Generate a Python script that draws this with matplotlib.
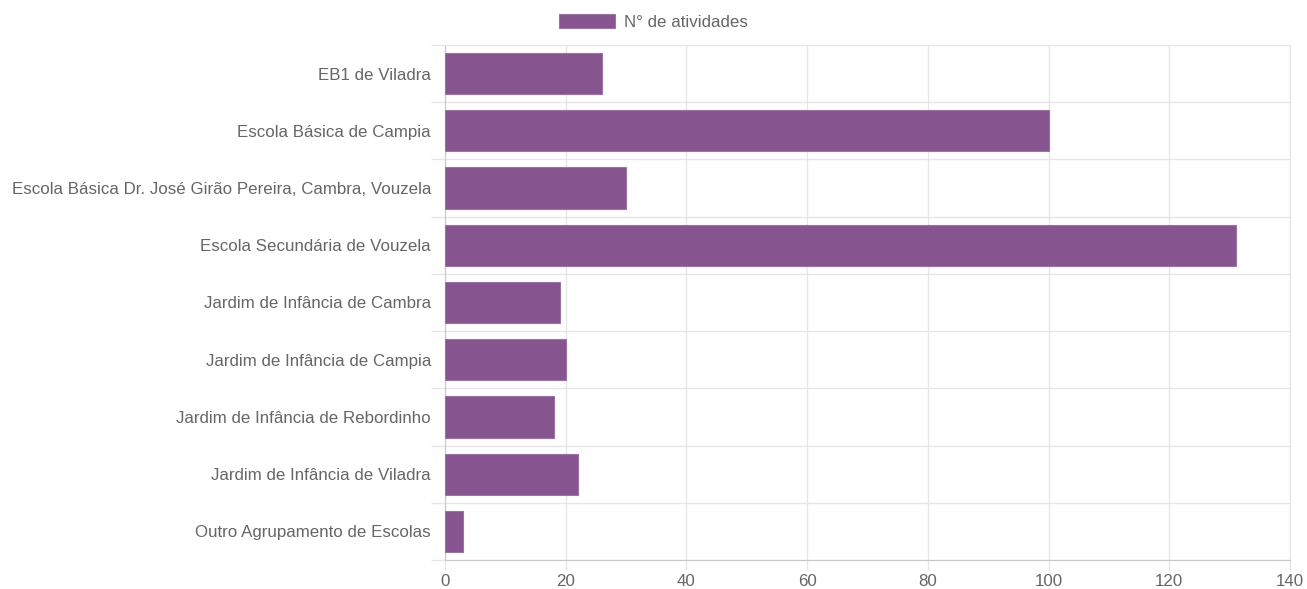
import matplotlib
matplotlib.use('Agg')
import matplotlib.pyplot as plt
import numpy as np

### Data

schools = [
    'EB1 de Viladra',
    'Escola Básica de Campia',
    'Escola Básica Dr. José Girão Pereira, Cambra, Vouzela',
    'Escola Secundária de Vouzela',
    'Jardim de Infância de Cambra',
    'Jardim de Infância de Campia',
    'Jardim de Infância de Rebordinho',
    'Jardim de Infância de Viladra',
    'Outro Agrupamento de Escolas',
]
activities = [26, 100, 30, 131, 19, 20, 18, 22, 3]
x_ticks = [0, 20, 40, 60, 80, 100, 120, 140]

### Style

plt.rcParams['font.family'] = ['Liberation Sans', 'DejaVu Sans']
text_color = '#666666'
grid_color = '#e6e6e6'
bar_color = '#86558f'
fsize = 12.2

fig = plt.figure(figsize=(13.07, 5.89), dpi=100)
ax = fig.add_axes([445 / 1307, 1 - 560 / 589, 845 / 1307, 515 / 589])

pos = np.arange(len(schools))
ax.barh(pos, activities, height=0.72, color=bar_color,
        edgecolor='#9a72a3', linewidth=0.8, label='N° de atividades', zorder=3)

ax.set_xlim(0, 140)
ax.set_ylim(len(schools) - 0.5, -0.5)

# x ticks
ax.set_xticks(x_ticks)
ax.set_xticklabels([str(t) for t in x_ticks])
ax.tick_params('x', labelsize=fsize, colors=text_color, length=7, width=1,
               color=grid_color, pad=3)
ax.xaxis.grid(True, color=grid_color, linewidth=1, zorder=0)

# y labels at centres, grid at boundaries
ax.set_yticks(pos)
ax.set_yticklabels(schools)
ax.tick_params('y', which='major', labelsize=fsize, colors=text_color, length=0, pad=10)
ax.set_yticks(np.arange(len(schools) + 1) - 0.5, minor=True)
ax.tick_params('y', which='minor', length=10, width=1, color=grid_color)
ax.yaxis.grid(True, which='minor', color=grid_color, linewidth=1, zorder=0)
ax.yaxis.grid(False, which='major')

for side in ['top', 'right']:
    ax.spines[side].set_color(grid_color)
for side in ['left', 'bottom']:
    ax.spines[side].set_color('#c8c8c8')
ax.set_axisbelow(True)

fig.legend(loc='upper center', bbox_to_anchor=(0.5, 1.0), frameon=False,
           fontsize=fsize, labelcolor=text_color, handlelength=3.3,
           handleheight=0.95, handletextpad=0.5, borderaxespad=0.4)

fig.savefig('out.png', dpi=100)
plt.close(fig)
